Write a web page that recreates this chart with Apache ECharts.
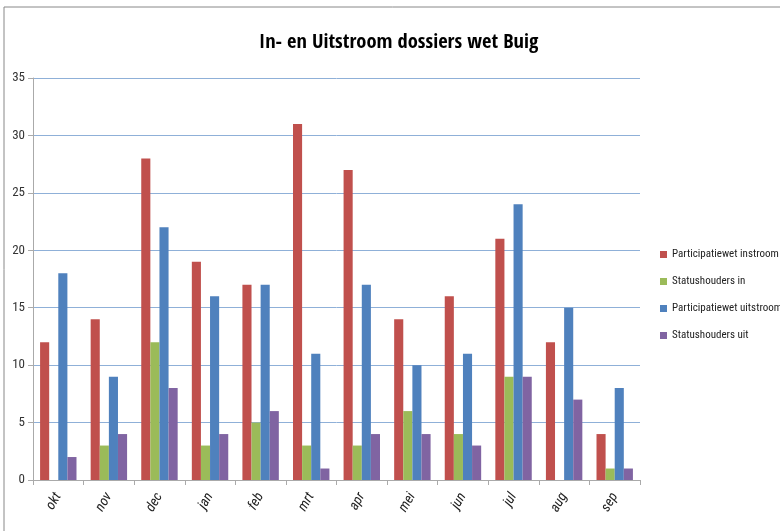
<!DOCTYPE html>
<html><head><meta charset="utf-8">
<script src="https://cdn.jsdelivr.net/npm/echarts@6/dist/echarts.min.js"></script>
<style>html,body{margin:0;padding:0;background:#fff}#c{width:780px;height:531px}</style>
</head><body><div id="c"></div>
<script>
var categories = ['okt','nov','dec','jan','feb','mrt','apr','mei','jun','jul','aug','sep'];
var partIn = [12,14,28,19,17,31,27,14,16,21,12,4];
var statIn = [0,3,12,3,5,3,3,6,4,9,0,1];
var partUit = [18,9,22,16,17,11,17,10,11,24,15,8];
var statUit = [2,4,8,4,6,1,4,4,3,9,7,1];
var yTicks = [0,5,10,15,20,25,30,35];

var chart = echarts.init(document.getElementById('c'));
var font = "'Roboto Condensed','Open Sans Condensed',sans-serif";
var tfont = "'Open Sans Condensed','Roboto Condensed',sans-serif";
function s(name, data, color){
  return {name:name, type:'bar', data:data, barGap:'0%', barCategoryGap:'28%',
    itemStyle:{color:color}};
}
chart.setOption({
  animation:false,
  graphic:[{type:'rect', shape:{x:4,y:7,width:800,height:540}, style:{fill:'none', stroke:'#888', lineWidth:1}, silent:true}],
  title:{text:'In- en Uitstroom dossiers wet Buig', left:254, top:27,
    textStyle:{fontFamily:tfont, fontSize:20.5, fontWeight:'bold', color:'#000'}},
  legend:{orient:'vertical', left:655, top:244, itemWidth:7, itemHeight:7, itemGap:16, icon:'rect',
    textStyle:{fontFamily:font, fontSize:11, color:'#222'},
    data:['Participatiewet instroom','Statushouders in','Participatiewet uitstroom','Statushouders uit']},
  grid:{left:33, right:140, top:78, bottom:51},
  xAxis:{type:'category', data:categories,
    axisLine:{lineStyle:{color:'#aaa'}}, axisTick:{show:true, alignWithLabel:false, length:5, lineStyle:{color:'#aaa'}},
    axisLabel:{rotate:60, fontStyle:'italic', fontFamily:font, fontSize:14, color:'#222', margin:14}},
  yAxis:{type:'value', min:0, max:35, interval:5,
    axisLine:{show:true, lineStyle:{color:'#aaa'}}, axisTick:{show:true, length:5, lineStyle:{color:'#aaa'}},
    splitLine:{lineStyle:{color:'#8FB0D8', width:1}},
    axisLabel:{fontFamily:font, fontSize:13, color:'#333', margin:8,
      formatter:function(v){return yTicks.indexOf(v)>=0? String(v):'';}}},
  series:[
    s('Participatiewet instroom', partIn, '#C0504D'),
    s('Statushouders in', statIn, '#9BBB59'),
    s('Participatiewet uitstroom', partUit, '#4F81BD'),
    s('Statushouders uit', statUit, '#8064A2')
  ]
});
</script></body></html>
